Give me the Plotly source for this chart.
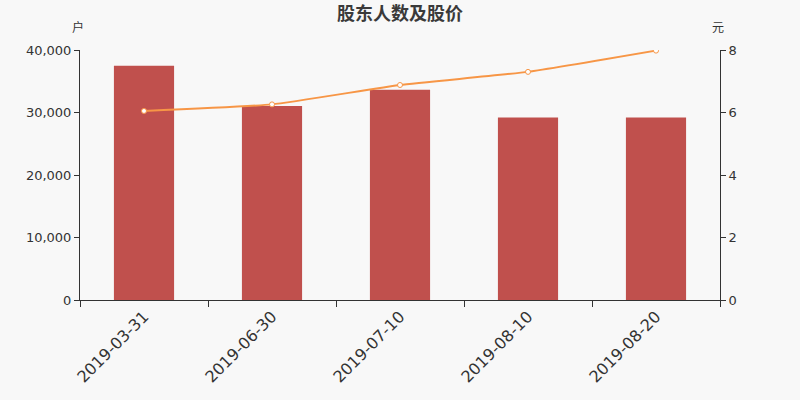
import plotly.graph_objects as go

dates = ["2019-03-31", "2019-06-30", "2019-07-10", "2019-08-10", "2019-08-20"]
holders = [37500, 31050, 33650, 29200, 29200]
prices = [6.05, 6.26, 6.88, 7.30, 7.98]

font = "DejaVu Sans, Noto Sans CJK SC, sans-serif"
axis_color = "#333333"

fig = go.Figure()
fig.add_trace(go.Bar(
    x=dates, y=holders, name="股东人数",
    marker=dict(color="#c0504d", line=dict(width=0)),
    width=0.47,
))
fig.add_trace(go.Scatter(
    x=dates, y=prices, name="股价", yaxis="y2",
    mode="lines+markers",
    line=dict(color="#f79646", width=2, shape="spline", smoothing=0.4),
    marker=dict(size=5, color="white", line=dict(color="#f79646", width=1)),
))

fig.update_layout(
    width=800, height=400,
    paper_bgcolor="#f8f8f8", plot_bgcolor="#f8f8f8",
    margin=dict(l=80, r=80, t=50, b=100),
    showlegend=False,
    font=dict(family=font, color=axis_color),
    title=dict(text="<b>股东人数及股价</b>", x=0.5, xanchor="center",
               y=0.965, yanchor="middle",
               font=dict(size=18, color="#3a3a3a")),
    xaxis=dict(
        type="category", tickson="boundaries", ticks="outside", ticklen=6,
        showline=True, linecolor=axis_color, linewidth=1, tickcolor=axis_color,
        tickangle=-45, tickfont=dict(size=16), showgrid=False,
    ),
    yaxis=dict(
        range=[0, 40000], dtick=10000, tickformat=",d",
        showline=True, linecolor=axis_color, linewidth=1, tickcolor=axis_color,
        ticks="outside", ticklen=5, showgrid=False, zeroline=False,
        tickfont=dict(size=13),
    ),
    yaxis2=dict(
        range=[0, 8], dtick=2, overlaying="y", side="right",
        showline=True, linecolor=axis_color, linewidth=1, tickcolor=axis_color,
        ticks="outside", ticklen=5, showgrid=False, zeroline=False,
        tickfont=dict(size=13),
    ),
    annotations=[
        dict(text="户", xref="paper", yref="paper", x=-0.003, y=1.088,
             xanchor="center", yanchor="middle", showarrow=False,
             font=dict(size=12, color=axis_color)),
        dict(text="元", xref="paper", yref="paper", x=0.997, y=1.088,
             xanchor="center", yanchor="middle", showarrow=False,
             font=dict(size=12, color=axis_color)),
    ],
)

fig.write_html("out.html", config={"displayModeBar": False},
               post_script="document.body.style.margin='0';")
